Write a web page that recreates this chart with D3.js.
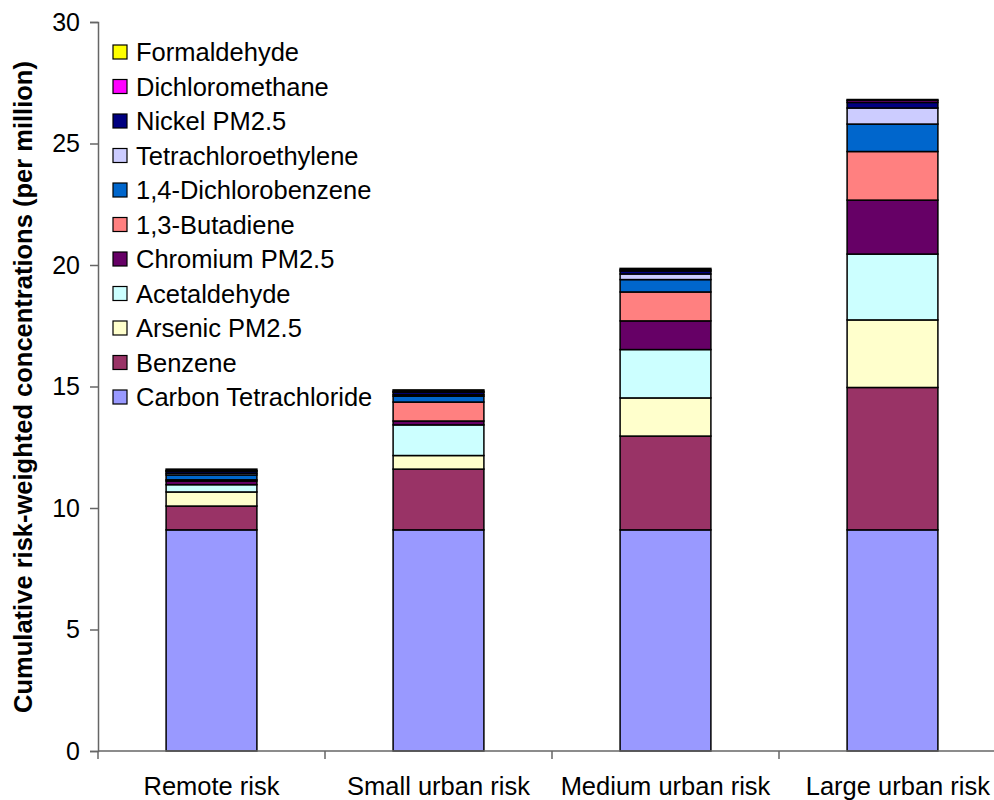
<!DOCTYPE html>
<html><head><meta charset="utf-8">
<script src="https://cdn.jsdelivr.net/npm/d3@7/dist/d3.min.js"></script>
<style>
html,body{margin:0;padding:0;background:#fff;}
svg{display:block;font-family:"Liberation Sans",Arial,sans-serif;}
</style></head>
<body><svg id="chart" width="994" height="800"></svg>
<script>
const categories = ["Remote risk", "Small urban risk", "Medium urban risk", "Large urban risk"];
const seriesNames = ["Carbon Tetrachloride", "Benzene", "Arsenic PM2.5", "Acetaldehyde", "Chromium PM2.5",
  "1,3-Butadiene", "1,4-Dichlorobenzene", "Tetrachloroethylene", "Nickel PM2.5", "Dichloromethane", "Formaldehyde"];
const seriesColors = ["#9999FF", "#993366", "#FFFFCC", "#CCFFFF", "#660066",
  "#FF8080", "#0066CC", "#CCCCFF", "#000080", "#FF00FF", "#FFFF00"];
// values per series, in category order
const carbonTet      = [9.10, 9.10, 9.10, 9.10];
const benzene        = [0.98, 2.50, 3.86, 5.86];
const arsenic        = [0.58, 0.56, 1.57, 2.78];
const acetaldehyde   = [0.30, 1.26, 1.99, 2.71];
const chromium       = [0.15, 0.16, 1.18, 2.22];
const butadiene      = [0.05, 0.78, 1.19, 2.00];
const dichlorobenz   = [0.20, 0.24, 0.51, 1.13];
const tetrachloro    = [0.07, 0.06, 0.23, 0.66];
const nickel         = [0.08, 0.10, 0.12, 0.23];
const dichlorometh   = [0.03, 0.04, 0.05, 0.08];
const formaldehyde   = [0.06, 0.06, 0.06, 0.04];
const yTicks = [0, 5, 10, 15, 20, 25, 30];
const yTitle = "Cumulative risk-weighted concentrations (per million)";

const seriesValues = [carbonTet, benzene, arsenic, acetaldehyde, chromium, butadiene,
  dichlorobenz, tetrachloro, nickel, dichlorometh, formaldehyde];

const rows = categories.map((c, i) => {
  const r = {cat: c};
  seriesNames.forEach((s, j) => r[s] = seriesValues[j][i]);
  return r;
});

const svg = d3.select("#chart");
const m = {left: 98, top: 22, bottom: 751};
const step = 227;
const x = d3.scaleBand().domain(categories).range([m.left, m.left + step * categories.length])
  .paddingInner(0.6).paddingOuter(0.3);
const y = d3.scaleLinear().domain([0, 30]).range([m.bottom, m.top]);

const stack = d3.stack().keys(seriesNames)(rows);

svg.append("g").selectAll("g").data(stack).join("g")
  .attr("fill", (d, i) => seriesColors[i])
  .selectAll("rect").data(d => d).join("rect")
  .attr("x", d => x(d.data.cat))
  .attr("width", x.bandwidth())
  .attr("y", d => y(d[1]))
  .attr("height", d => y(d[0]) - y(d[1]))
  .attr("stroke", "#000").attr("stroke-width", 1.5);

const axisColor = "#666";
// y axis
const yAxis = svg.append("g").attr("transform", `translate(${m.left},0)`)
  .call(d3.axisLeft(y).tickValues(yTicks).tickSize(8).tickPadding(10));
yAxis.select(".domain").attr("stroke", axisColor).attr("stroke-width", 1.5);
yAxis.selectAll(".tick line").attr("stroke", axisColor).attr("stroke-width", 1.5);
yAxis.selectAll("text").attr("font-size", 25).attr("fill", "#000")
  .attr("font-family", "'Liberation Sans', Arial, sans-serif");

// x axis
const xAxisG = svg.append("g").attr("transform", `translate(0,${m.bottom})`);
xAxisG.append("line").attr("x1", m.left).attr("x2", 994).attr("y1", 0).attr("y2", 0)
  .attr("stroke", axisColor).attr("stroke-width", 1.5);
const boundaries = categories.map((c, i) => m.left + i * x.step());
xAxisG.selectAll("line.tk").data(boundaries).join("line").attr("class", "tk")
  .attr("x1", d => d).attr("x2", d => d).attr("y1", 0).attr("y2", 8)
  .attr("stroke", axisColor).attr("stroke-width", 1.5);
xAxisG.selectAll("text").data(categories).join("text")
  .attr("x", (d, i) => i === categories.length - 1 ? 990 : x(d) + x.bandwidth() / 2)
  .attr("y", 44)
  .attr("text-anchor", (d, i) => i === categories.length - 1 ? "end" : "middle")
  .attr("font-size", 25.5).text(d => d);

// y title
svg.append("text").attr("transform", `translate(32,387) rotate(-90)`)
  .attr("text-anchor", "middle").attr("font-size", 25.5).attr("font-weight", "bold")
  .text(yTitle);

// legend (reverse order)
const legendItems = seriesNames.map((s, i) => ({name: s, color: seriesColors[i]})).reverse();
const lg = svg.append("g");
const li = lg.selectAll("g").data(legendItems).join("g")
  .attr("transform", (d, i) => `translate(113,${52 + i * 34.5})`);
li.append("rect").attr("x", 0).attr("y", -7).attr("width", 14).attr("height", 14)
  .attr("fill", d => d.color).attr("stroke", "#000").attr("stroke-width", 1.2);
li.append("text").attr("x", 23).attr("y", 0).attr("dy", "0.36em").attr("font-size", 25.5)
  .text(d => d.name);
</script></body></html>
